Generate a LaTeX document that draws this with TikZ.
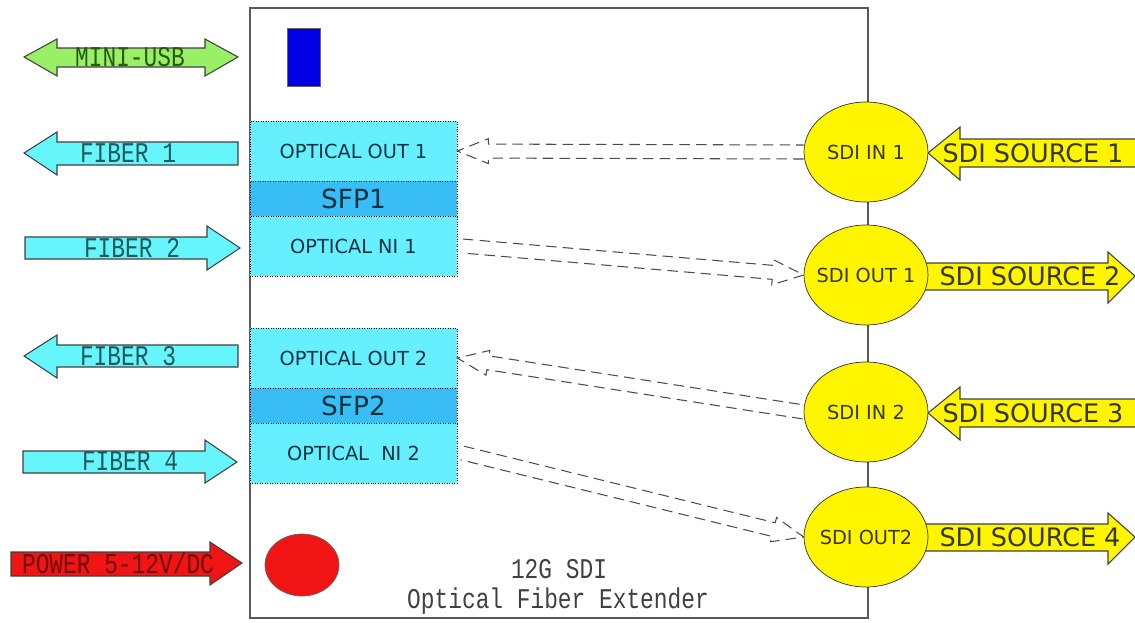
\documentclass[tikz,border=0pt]{standalone}
\usepackage{fontspec}
\usetikzlibrary{calc,shapes.geometric}
\newfontfamily\monofont{Liberation Mono}
\newfontfamily\labelfont{DejaVu Sans}
\newcommand{\tall}[1]{\scalebox{1}[1.25]{#1}}
\definecolor{usbgreen}{RGB}{153,240,102}
\definecolor{fibercyan}{RGB}{102,245,250}
\definecolor{powerred}{RGB}{240,20,20}
\definecolor{portcyan}{RGB}{102,240,255}
\definecolor{sfpblue}{RGB}{56,190,245}
\definecolor{sdiyellow}{RGB}{255,245,0}
\definecolor{usbtext}{RGB}{40,90,20}
\definecolor{fibertext}{RGB}{30,90,95}
\definecolor{powertext}{RGB}{110,10,10}
\definecolor{porttext}{RGB}{15,50,65}
\definecolor{sditext}{RGB}{55,55,10}
\tikzset{
  slab/.style={draw=black!75, line width=0.6pt},
  port/.style={draw, densely dotted, fill=portcyan, minimum width=4.14cm, minimum height=1.2cm,
    inner sep=0pt, text=porttext, font=\labelfont\fontsize{11}{11}\selectfont},
  sfp/.style={port, fill=sfpblue, minimum height=0.7cm, font=\labelfont\fontsize{15}{15}\selectfont},
  sdi/.style={ellipse, draw=black!80, fill=sdiyellow, minimum width=2.48cm, minimum height=2cm,
    inner sep=-5pt, text=sditext, font=\labelfont\fontsize{11}{11}\selectfont},
  link/.style={draw=black!70, dash pattern=on 6pt off 3.5pt, line width=0.6pt},
  sidetext/.style={font=\monofont\fontsize{13}{13}\selectfont, inner sep=1pt},
  srctext/.style={text=sditext, font=\labelfont\fontsize{14.5}{14.5}\selectfont},
}
% hollow dashed arrow from #1 to #2
\newcommand{\fatlink}[2]{%
  \path (#2) coordinate (t) ($(#2)!0.62cm!(#1)$) coordinate (h);
  \draw[link] ($(#1)!0.14cm!90:(#2)$) -- ($(h)!0.14cm!-90:(#1)$) -- ($(h)!0.25cm!-90:(#1)$) -- (t)
    -- ($(h)!0.25cm!90:(#1)$) -- ($(h)!0.14cm!90:(#1)$) -- ($(#1)!0.14cm!-90:(#2)$);
}
\begin{document}
\begin{tikzpicture}[x=0.02cm, y=-0.02cm]
\useasboundingbox (0,0) rectangle (1135,622);
% extender box
\draw[draw=black!65, line width=0.8pt] (250,8) rectangle (868,618);
\fill[fill=blue!90!black, draw=black!60] (287,28) rectangle (320,86);
\filldraw[fill=powerred, draw=black!60] (302,565) ellipse (37 and 31);
% left side arrows
\filldraw[slab, fill=usbgreen] (24,57) -- (57,39) -- (57,48) -- (205,48) -- (205,39) -- (238,57)
  -- (205,76) -- (205,67) -- (57,67) -- (57,76) -- cycle;
\filldraw[slab, fill=fibercyan] (24,153) -- (57,132) -- (57,142) -- (238,142) -- (238,165) -- (57,165) -- (57,175) -- cycle;
\filldraw[slab, fill=fibercyan] (25,237) -- (207,237) -- (207,226) -- (240,248) -- (207,270) -- (207,259) -- (25,259) -- cycle;
\filldraw[slab, fill=fibercyan] (24,356) -- (57,335) -- (57,345) -- (238,345) -- (238,367) -- (57,367) -- (57,378) -- cycle;
\filldraw[slab, fill=fibercyan] (23,451) -- (205,451) -- (205,440) -- (237,462) -- (205,483) -- (205,473) -- (23,473) -- cycle;
\filldraw[slab, fill=powerred] (11,552) -- (210,552) -- (210,542) -- (242,563) -- (210,585) -- (210,576) -- (11,576) -- cycle;
\node[sidetext, text=usbtext] (usb) at (130,57) {\tall{MINI-USB}};
\node[sidetext, text=fibertext] (fiber1) at (128,153) {\tall{FIBER 1}};
\node[sidetext, text=fibertext] (fiber2) at (132,248) {\tall{FIBER 2}};
\node[sidetext, text=fibertext] (fiber3) at (128,356) {\tall{FIBER 3}};
\node[sidetext, text=fibertext] (fiber4) at (130,461) {\tall{FIBER 4}};
\node[sidetext, text=powertext] (power) at (118,563) {\tall{POWER 5-12V/DC}};
% SFP ports
\node[port] (out1) at (353.5,151) {OPTICAL OUT 1};
\node[sfp] (sfp1) at (353.5,198.5) {SFP1};
\node[port] (ni1) at (353.5,246) {OPTICAL NI 1};
\node[port] (out2) at (353.5,358) {OPTICAL OUT 2};
\node[sfp] (sfp2) at (353.5,405.5) {SFP2};
\node[port] (ni2) at (353.5,453) {OPTICAL\ \ NI 2};
% right side arrows
\filldraw[slab, fill=sdiyellow] (1135,139) -- (960,139) -- (960,127) -- (928,153) -- (960,180) -- (960,167) -- (1135,167);
\filldraw[slab, fill=sdiyellow] (920,263) -- (1108,263) -- (1108,252) -- (1135,276) -- (1108,303) -- (1108,290) -- (920,290) -- cycle;
\filldraw[slab, fill=sdiyellow] (1135,399) -- (960,399) -- (960,387) -- (928,413) -- (960,440) -- (960,427) -- (1135,427);
\filldraw[slab, fill=sdiyellow] (920,524) -- (1108,524) -- (1108,513) -- (1135,537) -- (1108,564) -- (1108,551) -- (920,551) -- cycle;
\node[srctext] (src1) at (1033,153) {SDI SOURCE 1};
\node[srctext] (src2) at (1030,276) {SDI SOURCE 2};
\node[srctext] (src3) at (1033,413) {SDI SOURCE 3};
\node[srctext] (src4) at (1030,537) {SDI SOURCE 4};
% SDI connectors
\node[sdi] (sin1) at (866,152) {SDI IN 1};
\node[sdi] (sout1) at (866,275) {SDI OUT 1};
\node[sdi] (sin2) at (866,412) {SDI IN 2};
\node[sdi] (sout2) at (866,537) {SDI OUT2};
% signal paths
\coordinate (ni1tail) at ($(ni1.east)+(5,0)$);
\coordinate (ni2tail) at ($(ni2.east)+(5,0)$);
\fatlink{sin1.west}{out1.east}
\fatlink{ni1tail}{sout1.west}
\fatlink{sin2.west}{out2.east}
\fatlink{ni2tail}{sout2.west}
% caption
\node[sidetext, text=black!75] (title) at (559,569) {\tall{12G SDI}};
\node[sidetext, text=black!75] (subtitle) at (558,601) {\tall{Optical Fiber Extender}};
\end{tikzpicture}
\end{document}
